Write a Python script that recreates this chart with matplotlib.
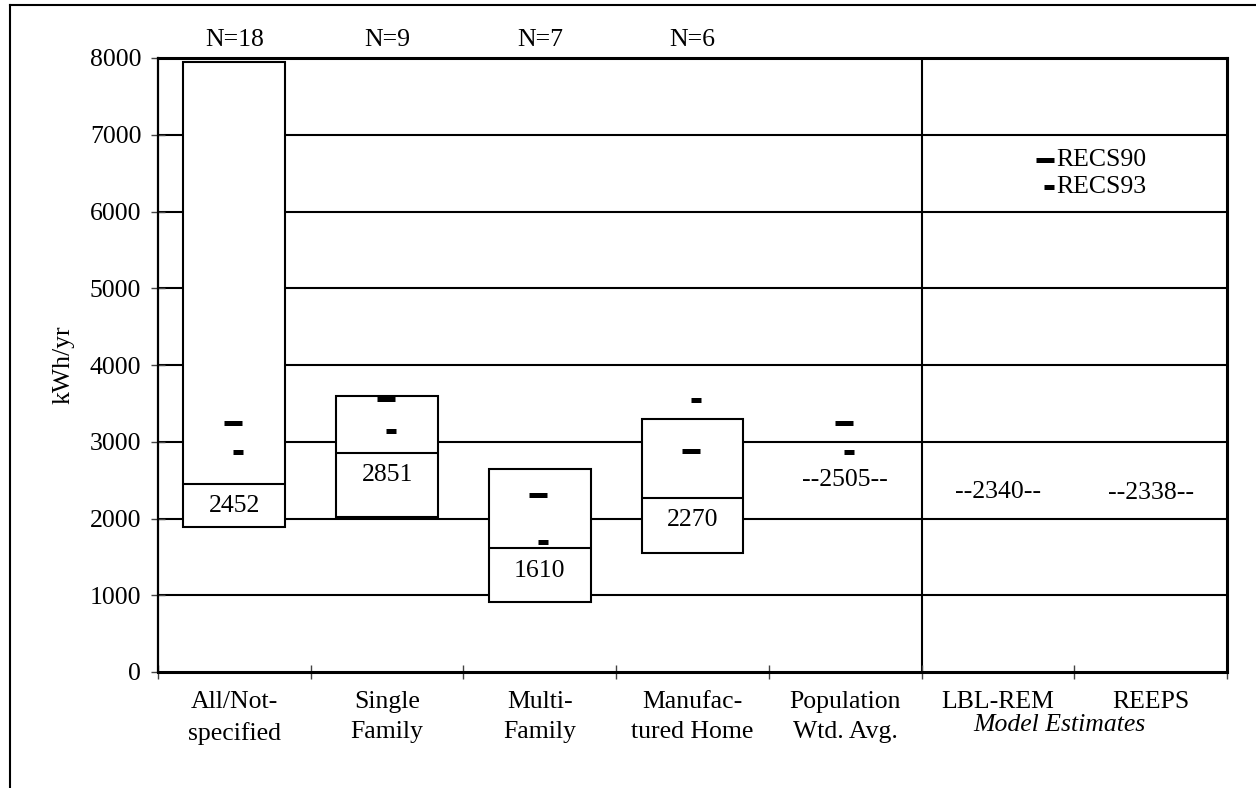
import matplotlib
matplotlib.use('Agg')
import matplotlib.pyplot as plt
import matplotlib.transforms as mtransforms
from matplotlib.lines import Line2D

# ---------------- data ----------------
categories = ["All/Not-\nspecified", "Single\nFamily", "Multi-\nFamily",
              "Manufac-\ntured Home", "Population\nWtd. Avg.", "LBL-REM", "REEPS"]
box_low = [1890, 2020, 910, 1550]
box_high = [7950, 3590, 2650, 3300]
box_median = [2452, 2851, 1610, 2270]
sample_n = [18, 9, 7, 6]
recs90 = [3240, 3560, 2310, 2880, 3240]
recs93 = [2860, 3140, 1690, 3540, 2860]
point_cats = [4, 5, 6]
point_est = [2505, 2340, 2338]
y_ticks = [0, 1000, 2000, 3000, 4000, 5000, 6000, 7000, 8000]

plt.rcParams['font.family'] = ['Liberation Serif', 'DejaVu Serif']
FS = 18.5

W, H = 1256, 788
fig = plt.figure(figsize=(W / 100, H / 100), dpi=100)
ax = fig.add_axes([158 / W, 1 - 672 / H, (1227 - 158) / W, (672 - 58) / H])
ax.set_xlim(-0.5, len(categories) - 0.5)
ax.set_ylim(y_ticks[0], y_ticks[-1])

# grid lines and divider
for y in y_ticks[1:-1]:
    ax.axhline(y, color='black', lw=1.5, zorder=1)
ax.axvline(4.5, color='black', lw=1.5, zorder=1)

# boxes
xs = list(range(len(box_low)))
bw = 0.667
ax.bar(xs, [h - l for h, l in zip(box_high, box_low)], bottom=box_low, width=bw,
       color='white', edgecolor='black', linewidth=1.5, zorder=2)
ax.hlines(box_median, [x - bw / 2 for x in xs], [x + bw / 2 for x in xs],
          color='black', lw=1.5, zorder=3)
for x, m in zip(xs, box_median):
    ax.annotate(str(m), (x, m), xytext=(0, -16), textcoords='offset points',
                ha='center', va='center', fontsize=FS, zorder=4)

# RECS markers
off90 = ax.transData + mtransforms.ScaledTranslation(-0.015, 0, fig.dpi_scale_trans)
off93 = ax.transData + mtransforms.ScaledTranslation(0.035, 0, fig.dpi_scale_trans)
ax.plot(list(range(len(recs90))), recs90, ls='none', marker='_', ms=13.3, mew=3.6,
        color='black', zorder=5, transform=off90)
ax.plot(list(range(len(recs93))), recs93, ls='none', marker='_', ms=7.9, mew=3.6,
        color='black', zorder=5, transform=off93)

# point estimates
for x, v in zip(point_cats, point_est):
    ax.text(x, v, f"--{v}--", ha='center', va='center', fontsize=FS, zorder=4)

# N labels
blend = mtransforms.blended_transform_factory(ax.transData, ax.transAxes)
for x, n in zip(xs, sample_n):
    ax.text(x, 1.030, f"N={n}", transform=blend, ha='center', va='center', fontsize=FS)

# legend (manual)
ax.plot([0.8298], [0.834], transform=ax.transAxes, ls='none', marker='_', ms=13.3,
        mew=3.6, color='black', clip_on=False, zorder=6)
ax.plot([0.8335], [0.790], transform=ax.transAxes, ls='none', marker='_', ms=7.9,
        mew=3.6, color='black', clip_on=False, zorder=6)
ax.text(0.840, 0.834, "RECS90", transform=ax.transAxes, ha='left', va='center', fontsize=FS)
ax.text(0.840, 0.790, "RECS93", transform=ax.transAxes, ha='left', va='center', fontsize=FS)

# axes styling
ax.set_yticks(y_ticks)
ax.set_yticklabels([str(t) for t in y_ticks], fontsize=FS)
ax.tick_params(axis='y', direction='inout', length=10, width=1, color='#444444', pad=7)
ax.set_xticks([i - 0.5 for i in range(len(categories) + 1)])
ax.set_xticklabels([])
ax.tick_params(axis='x', which='major', direction='inout', length=10, width=1, color='#444444')
ax.set_xticks(list(range(len(categories))), minor=True)
ax.set_xticklabels(categories, minor=True, fontsize=FS, linespacing=1.45)
ax.tick_params(axis='x', which='minor', length=0, pad=14)

ax.text(5.40, -0.0863, "Model Estimates", transform=blend, ha='center', va='center',
        fontsize=FS, style='italic')
ax.text(-0.0887, 0.5, "kWh/yr", transform=ax.transAxes, rotation=90,
        ha='center', va='center', fontsize=FS)

ax.spines['left'].set_linewidth(1.6)
ax.spines['bottom'].set_linewidth(2.2)
ax.spines['top'].set_linewidth(2.2)
ax.spines['right'].set_linewidth(2.2)
for s in ax.spines.values():
    s.set_zorder(7)

# outer frame (left and top edges)
fig.add_artist(Line2D([10 / W, 10 / W], [0, 1 - 5 / H], transform=fig.transFigure,
                      color='black', lw=1.5))
fig.add_artist(Line2D([10 / W, 1], [1 - 5 / H, 1 - 5 / H], transform=fig.transFigure,
                      color='black', lw=1.5))

fig.savefig('out.png', dpi=100, facecolor='white')
